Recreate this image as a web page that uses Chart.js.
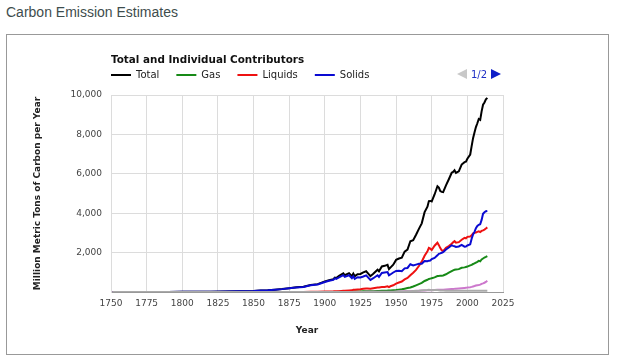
<!DOCTYPE html>
<html>
<head>
<meta charset="utf-8">
<script src="https://cdn.jsdelivr.net/npm/chart.js@4/dist/chart.umd.min.js"></script>
<style>
  body{margin:0;background:#fff;width:619px;height:362px;overflow:hidden;position:relative}
  #head{position:absolute;left:6px;top:4px;font:14px "Liberation Sans",Arial,sans-serif;line-height:16px;color:#3e4d4d}
  #box{position:absolute;left:6px;top:34px;width:601px;height:319px;border:1px solid #999}
  #box canvas{position:absolute;left:0;top:0}
  #ctitle{position:absolute;left:104px;top:17px;font:bold 10.4px "DejaVu Sans",Verdana,sans-serif;line-height:14px;color:#111;white-space:nowrap}
  #pager{position:absolute;left:450px;top:34px;height:12px;font:10px "DejaVu Sans",Verdana,sans-serif;line-height:12px;color:#1f2fc4;white-space:nowrap}
  #pager .tri{display:inline-block;width:0;height:0;border-top:5.5px solid transparent;border-bottom:5.5px solid transparent;vertical-align:-1px}
  #pager .prev{border-right:10px solid #c8c8c8;margin-right:4px}
  #pager .next{border-left:10px solid #0f1fc8;margin-left:4px}
</style>
</head>
<body>
<div id="head">Carbon Emission Estimates</div>
<div id="box">
  <canvas id="chart" width="601" height="319"></canvas>
  <div id="ctitle">Total and Individual Contributors</div>
  <div id="pager"><span class="tri prev"></span>1/2<span class="tri next"></span></div>
</div>
<script>
// million metric tons of carbon per year
const years   = [1751,1760,1770,1780,1790,1800,1810,1820,1830,1840,1850,1855,1860,1865,1870,1875,1880,1885,1890,1895,
                 1900,1903,1906,1907,1908,1910,1913,1914,1917,1919,1920,1921,1923,1925,1927,1929,1930,1932,1934,1937,
                 1938,1940,1942,1944,1945,1946,1948,1950,1952,1954,1956,1958,1960,1962,1964,1966,1968,1970,1972,1973,
                 1974,1975,1977,1979,1980,1981,1982,1983,1985,1987,1989,1990,1991,1992,1994,1996,1998,1999,2000,2002,
                 2003,2004,2005,2006,2007,2008,2009,2010,2011,2012,2013,2014];
const total   = [3,3,3,4,5,8,10,14,24,33,54,74,91,119,147,188,236,265,356,400,
                 534,599,650,730,707,819,943,850,956,806,932,803,907,916,993,1053,970,803,925,1131,
                 1053,1299,1328,1380,1160,1238,1385,1630,1700,1740,2050,2150,2577,2625,2906,3203,3484,4053,4331,4614,
                 4623,4596,4951,5369,5297,5125,5080,5067,5412,5725,6054,6094,6178,6047,6128,6469,6593,6612,6765,6978,
                 7402,7810,8093,8370,8566,8783,8740,9167,9508,9623,9775,9855];
const gas     = [0,0,0,0,0,0,0,0,0,0,0,0,0,0,0,0,0,3,5,4,
                 3,4,5,6,6,10,12,12,15,17,20,20,24,28,33,38,40,38,42,50,
                 52,60,64,72,80,82,90,97,120,140,170,200,230,280,340,400,460,560,620,660,
                 680,700,740,810,810,830,830,840,900,980,1060,1100,1130,1140,1160,1230,1250,1270,1290,1350,
                 1380,1420,1450,1490,1530,1580,1560,1650,1700,1750,1780,1820];
const liquids = [0,0,0,0,0,0,0,0,0,0,0,0,0,0,1,2,3,5,10,15,
                 23,28,32,35,37,43,59,60,80,85,110,112,130,140,160,180,180,165,190,230,
                 232,250,250,290,250,290,340,423,480,530,640,710,850,980,1120,1320,1540,1840,2070,2240,
                 2200,2130,2350,2500,2380,2230,2120,2080,2250,2330,2450,2520,2580,2500,2530,2650,2750,2720,2800,2820,
                 2880,2980,3000,3020,3050,3080,3040,3100,3130,3170,3220,3280];
const solids  = [3,3,3,4,5,8,10,14,24,33,54,74,91,119,146,186,230,258,342,385,
                 507,570,615,690,665,737,852,768,852,700,800,670,750,740,790,846,767,610,700,850,
                 770,965,990,1010,850,890,990,1070,1080,1060,1200,1220,1410,1350,1390,1430,1430,1570,1560,1590,
                 1600,1670,1730,1860,1940,1960,1990,2020,2160,2260,2370,2340,2320,2290,2310,2390,2300,2310,2360,2420,
                 2700,2920,3050,3240,3350,3410,3440,3660,3970,4050,4100,4110];
const cement  = [0,0,0,0,0,0,0,0,0,0,0,0,0,0,0,0,0,0,0,0,
                 0,0,0,0,0,0,0,0,0,0,0,0,0,0,0,10,10,8,9,12,
                 12,14,12,10,7,10,15,18,22,27,33,38,43,50,58,65,72,78,86,92,
                 94,95,104,117,120,119,118,120,130,139,150,157,161,167,178,192,204,210,226,243,
                 261,283,304,327,346,354,374,414,440,470,510,568];
const flaring = [0,0,0,0,0,0,0,0,0,0,0,0,0,0,0,0,0,0,0,0,
                 0,0,0,0,0,0,0,0,0,0,0,0,0,0,0,0,0,0,0,0,
                 0,0,0,0,0,0,0,23,25,28,31,35,39,46,53,60,72,87,98,110,
                 106,95,100,98,89,80,78,73,66,62,61,60,62,59,60,60,65,62,61,62,
                 64,66,66,66,66,66,67,66,67,68,68,68];
const names   = ["Total","Gas","Liquids","Solids","Cement Production","Gas Flaring"];
const colors  = ["#000000","#178a17","#ee1111","#0a0ad2","#cc77cc","#aaaaaa"];
const yTicks  = [0,2000,4000,6000,8000,10000];

const series = [total,gas,liquids,solids,cement,flaring];
const drawOrder = [5,4,3,2,1,0]; // solids over total, small ones on top

const datasets = series.map((vals,i)=>({
  label: names[i],
  data: years.map((yr,k)=>({x:yr,y:vals[k]})),
  borderColor: colors[i],
  backgroundColor: colors[i],
  borderWidth: 2,
  pointRadius: 0,
  order: drawOrder[i]
}));

// legend is laid out inside the plot width; pull it back so the first line sits on the axis
const legendPos = {
  id:'legendPos',
  afterLayout(chart){
    const lg = chart.legend;
    lg.left -= lg.options.labels.padding;
    lg.right -= lg.options.labels.padding;
    lg.top -= 5;
    lg.bottom -= 5;
  }
};

const tickFont = {family:"'DejaVu Sans', Verdana, sans-serif", size:9};
const titleFont = {family:"'DejaVu Sans', Verdana, sans-serif", size:9, weight:'bold'};

new Chart(document.getElementById("chart"),{
  type:'line',
  data:{datasets},
  plugins:[legendPos],
  options:{
    responsive:false,
    animation:false,
    layout:{padding:{top:23,left:20,right:105,bottom:0}},
    plugins:{
      legend:{
        display:true,
        position:'top',
        align:'start',
        fullSize:false,
        labels:{
          boxWidth:20, boxHeight:2, padding:17,
          color:'#222',
          font:{family:"'DejaVu Sans', Verdana, sans-serif", size:10},
          generateLabels: c => Chart.defaults.plugins.legend.labels.generateLabels(c).map(l=>({...l,lineWidth:0})),
          filter: item => item.datasetIndex < 4,
          sort: (a,b) => a.datasetIndex - b.datasetIndex
        }
      },
      title:{display:false},
      tooltip:{enabled:false}
    },
    scales:{
      x:{
        type:'linear', min:1750, max:2025,
        afterFit: s => { s.height = 62; },
        ticks:{stepSize:25, padding:6, color:'#444', font:tickFont, callback: v => String(v), maxRotation:0},
        grid:{color:'#dcdcdc', drawTicks:false},
        border:{color:'#999'},
        title:{display:true, text:'Year', color:'#222', font:titleFont, padding:{top:0,bottom:17.6}}
      },
      y:{
        min:0, max:10000,
        afterFit: s => { s.width = 84; },
        afterBuildTicks: s => { s.ticks = yTicks.map(v=>({value:v})); },
        ticks:{padding:9, color:'#444', font:tickFont,
               callback: v => v === 0 ? '' : v.toLocaleString('en-US')},
        grid:{color:'#dcdcdc', drawTicks:false},
        border:{color:'#dcdcdc'},
        title:{display:true, text:'Million Metric Tons of Carbon per Year', color:'#222', font:titleFont, padding:{top:5.6,bottom:0}}
      }
    }
  }
});
</script>
</body>
</html>
